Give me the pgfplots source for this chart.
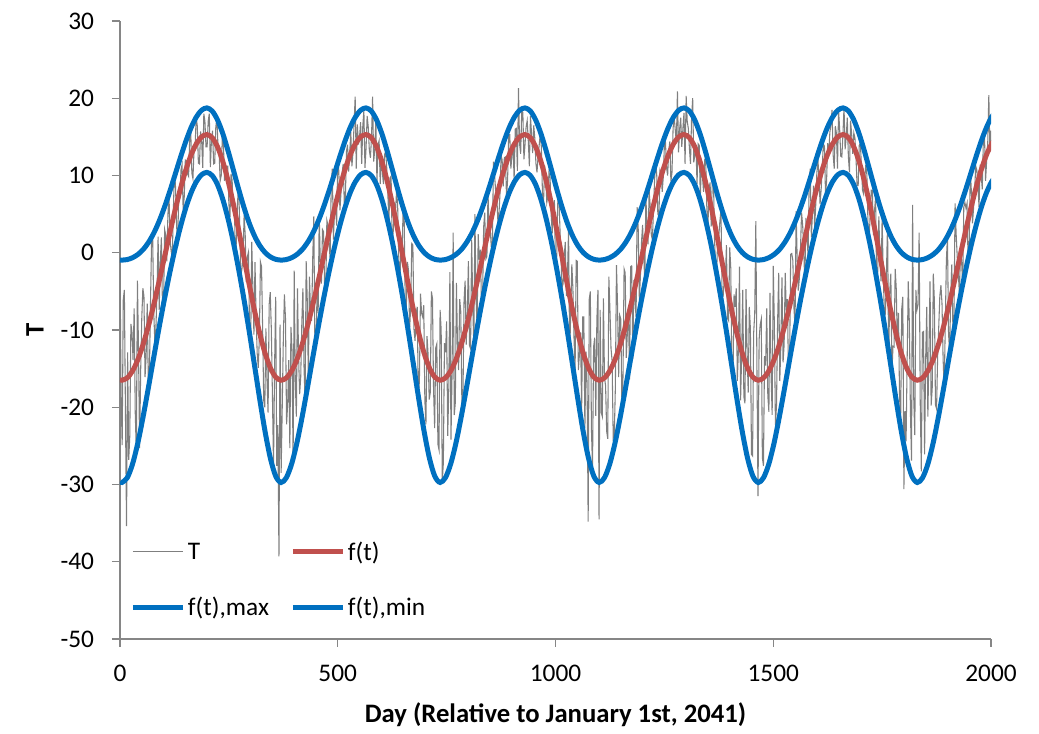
\documentclass[border=0pt]{standalone}
\usepackage{fontspec}
\setmainfont{Carlito}
\usepackage{pgfplots}
\usepackage{pgfplotstable}
\pgfplotsset{compat=1.18}

\definecolor{seriesgray}{HTML}{7F7F7F}
\definecolor{seriesred}{HTML}{C0504D}
\definecolor{seriesblue}{HTML}{0070C0}
\definecolor{axisgray}{HTML}{868686}

% temperature record, sampled every 2.5 days
\pgfplotstableread[row sep=\\]{
d T\\
0 -1.3\\ 2.5 -18.3\\ 5 -24.9\\ 7.5 -6.1\\ 10 -4.8\\ 12.5 -20.6\\ 15 -35.4\\ 17.5 -12.9\\ 20 -26.8\\ 22.5 -23.7\\
25 -9.2\\ 27.5 -10.3\\ 30 -13.9\\ 32.5 -7.2\\ 35 -20.7\\ 37.5 -25.8\\ 40 -3.6\\ 42.5 -12.4\\ 45 -25.3\\ 47.5 -15.2\\
50 -8.5\\ 52.5 -4.6\\ 55 -5.6\\ 57.5 -16.1\\ 60 -13.4\\ 62.5 -6.6\\ 65 -16.8\\ 67.5 -15.8\\ 70 -6.6\\ 72.5 1.5\\
75 2.1\\ 77.5 -7.7\\ 80 -11.6\\ 82.5 -9.7\\ 85 -5.0\\ 87.5 2.1\\ 90 -7.4\\ 92.5 -1.2\\ 95 2.0\\ 97.5 -7.0\\
100 -6.9\\ 102.5 3.0\\ 105 2.3\\ 107.5 -1.1\\ 110 4.9\\ 112.5 7.5\\ 115 1.7\\ 117.5 0.2\\ 120 -0.7\\ 122.5 5.4\\
125 10.6\\ 127.5 8.5\\ 130 3.5\\ 132.5 0.8\\ 135 8.3\\ 137.5 7.0\\ 140 10.7\\ 142.5 11.4\\ 145 5.6\\ 147.5 7.2\\
150 12.0\\ 152.5 11.9\\ 155 10.2\\ 157.5 9.9\\ 160 14.7\\ 162.5 15.6\\ 165 10.3\\ 167.5 9.6\\ 170 13.3\\ 172.5 13.9\\
175 17.5\\ 177.5 16.4\\ 180 11.6\\ 182.5 11.5\\ 185 15.7\\ 187.5 14.5\\ 190 11.0\\ 192.5 18.0\\ 195 17.0\\ 197.5 13.7\\
200 13.7\\ 202.5 17.0\\ 205 18.0\\ 207.5 11.1\\ 210 14.6\\ 212.5 15.8\\ 215 11.5\\ 217.5 11.6\\ 220 16.3\\ 222.5 17.4\\
225 13.8\\ 227.5 13.1\\ 230 9.3\\ 232.5 10.0\\ 235 15.3\\ 237.5 14.2\\ 240 9.4\\ 242.5 9.5\\ 245 11.2\\ 247.5 11.2\\
250 6.3\\ 252.5 4.6\\ 255 10.2\\ 257.5 9.4\\ 260 5.3\\ 262.5 6.8\\ 265 -0.8\\ 267.5 1.8\\ 270 6.7\\ 272.5 8.6\\
275 3.3\\ 277.5 -2.9\\ 280 -2.1\\ 282.5 -0.7\\ 285 4.9\\ 287.5 2.3\\ 290 -3.8\\ 292.5 -0.5\\ 295 0.1\\ 297.5 -9.9\\
300 -12.6\\ 302.5 1.4\\ 305 -4.3\\ 307.5 -10.6\\ 310 -1.2\\ 312.5 -8.3\\ 315 -13.0\\ 317.5 -14.9\\ 320 -11.0\\ 322.5 -1.2\\
325 -1.8\\ 327.5 -9.8\\ 330 -19.1\\ 332.5 -20.0\\ 335 -9.8\\ 337.5 -16.4\\ 340 -20.7\\ 342.5 -6.7\\ 345 -5.1\\ 347.5 -9.9\\
350 -18.4\\ 352.5 -27.6\\ 355 -14.6\\ 357.5 -5.7\\ 360 -27.6\\ 362.5 -22.3\\ 365 -39.3\\ 367.5 -9.3\\ 370 -28.5\\ 372.5 -20.1\\
375 -11.3\\ 377.5 -5.4\\ 380 -8.5\\ 382.5 -22.2\\ 385 -19.6\\ 387.5 -13.9\\ 390 -25.3\\ 392.5 -9.6\\ 395 -12.6\\ 397.5 -27.0\\
400 -2.3\\ 402.5 -16.8\\ 405 -21.2\\ 407.5 -4.6\\ 410 -13.3\\ 412.5 -18.3\\ 415 -16.1\\ 417.5 -9.1\\ 420 -4.6\\ 422.5 -14.7\\
425 -19.2\\ 427.5 -1.1\\ 430 -6.1\\ 432.5 -16.3\\ 435 -3.1\\ 437.5 -7.5\\ 440 -8.8\\ 442.5 -0.8\\ 445 4.7\\ 447.5 -11.9\\
450 -11.8\\ 452.5 -5.3\\ 455 -7.8\\ 457.5 4.9\\ 460 -1.5\\ 462.5 -4.0\\ 465 3.0\\ 467.5 2.7\\ 470 -5.1\\ 472.5 -4.7\\
475 4.2\\ 477.5 3.6\\ 480 1.1\\ 482.5 -0.7\\ 485 8.7\\ 487.5 10.9\\ 490 1.7\\ 492.5 5.3\\ 495 6.0\\ 497.5 3.5\\
500 12.4\\ 502.5 10.5\\ 505 5.5\\ 507.5 7.8\\ 510 10.3\\ 512.5 11.5\\ 515 6.4\\ 517.5 7.1\\ 520 13.1\\ 522.5 14.0\\
525 10.5\\ 527.5 13.0\\ 530 15.6\\ 532.5 11.2\\ 535 13.0\\ 537.5 16.7\\ 540 20.2\\ 542.5 10.9\\ 545 16.6\\ 547.5 14.0\\
550 15.0\\ 552.5 16.9\\ 555 11.5\\ 557.5 16.4\\ 560 18.4\\ 562.5 11.0\\ 565 13.5\\ 567.5 17.7\\ 570 16.3\\ 572.5 13.3\\
575 12.3\\ 577.5 14.9\\ 580 20.2\\ 582.5 11.8\\ 585 13.3\\ 587.5 17.2\\ 590 9.1\\ 592.5 14.0\\ 595 14.5\\ 597.5 8.9\\
600 12.6\\ 602.5 10.3\\ 605 8.9\\ 607.5 12.7\\ 610 13.1\\ 612.5 11.0\\ 615 7.7\\ 617.5 3.9\\ 620 9.7\\ 622.5 9.9\\
625 1.4\\ 627.5 2.8\\ 630 6.5\\ 632.5 5.1\\ 635 8.0\\ 637.5 6.3\\ 640 -0.4\\ 642.5 -3.8\\ 645 0.3\\ 647.5 -1.0\\
650 5.6\\ 652.5 4.6\\ 655 -6.5\\ 657.5 -7.0\\ 660 -1.2\\ 662.5 -2.3\\ 665 -9.9\\ 667.5 -7.0\\ 670 1.2\\ 672.5 1.0\\
675 -9.9\\ 677.5 -11.4\\ 680 -7.9\\ 682.5 -7.0\\ 685 -18.7\\ 687.5 -16.6\\ 690 -5.3\\ 692.5 -7.8\\ 695 -8.3\\ 697.5 -6.8\\
700 -19.1\\ 702.5 -22.2\\ 705 -10.8\\ 707.5 -13.2\\ 710 -19.0\\ 712.5 -18.1\\ 715 -5.0\\ 717.5 -5.9\\ 720 -17.7\\ 722.5 -22.7\\
725 -12.3\\ 727.5 -11.8\\ 730 -24.8\\ 732.5 -25.5\\ 735 -7.4\\ 737.5 -10.0\\ 740 -29.6\\ 742.5 -27.2\\ 745 -11.7\\ 747.5 -12.9\\
750 -8.9\\ 752.5 -23.7\\ 755 -17.5\\ 757.5 -2.5\\ 760 -24.2\\ 762.5 -15.6\\ 765 2.6\\ 767.5 -21.0\\ 770 -19.4\\ 772.5 -3.9\\
775 -11.8\\ 777.5 -15.2\\ 780 -6.0\\ 782.5 -7.6\\ 785 -19.3\\ 787.5 -18.8\\ 790 -6.2\\ 792.5 -3.6\\ 795 -11.9\\ 797.5 -7.6\\
800 -1.1\\ 802.5 -12.0\\ 805 -12.4\\ 807.5 1.7\\ 810 -6.7\\ 812.5 -12.4\\ 815 5.0\\ 817.5 -5.8\\ 820 -9.6\\ 822.5 2.4\\
825 -0.9\\ 827.5 0.4\\ 830 -6.6\\ 832.5 -6.3\\ 835 3.3\\ 837.5 5.2\\ 840 -0.8\\ 842.5 -0.5\\ 845 7.8\\ 847.5 3.2\\
850 3.2\\ 852.5 0.8\\ 855 0.8\\ 857.5 11.8\\ 860 10.1\\ 862.5 8.1\\ 865 7.6\\ 867.5 4.3\\ 870 4.8\\ 872.5 7.6\\
875 12.6\\ 877.5 12.0\\ 880 8.6\\ 882.5 12.3\\ 885 12.4\\ 887.5 7.2\\ 890 9.4\\ 892.5 15.3\\ 895 15.3\\ 897.5 10.9\\
900 12.6\\ 902.5 14.1\\ 905 9.5\\ 907.5 16.0\\ 910 16.1\\ 912.5 10.6\\ 915 21.3\\ 917.5 14.1\\ 920 12.8\\ 922.5 18.3\\
925 18.2\\ 927.5 12.1\\ 930 14.0\\ 932.5 16.3\\ 935 17.1\\ 937.5 14.5\\ 940 11.2\\ 942.5 17.7\\ 945 15.4\\ 947.5 12.9\\
950 16.5\\ 952.5 14.8\\ 955 11.6\\ 957.5 10.4\\ 960 12.5\\ 962.5 13.9\\ 965 15.4\\ 967.5 13.7\\ 970 7.8\\ 972.5 6.4\\
975 11.3\\ 977.5 9.9\\ 980 6.5\\ 982.5 7.3\\ 985 10.4\\ 987.5 9.8\\ 990 5.0\\ 992.5 2.5\\ 995 5.8\\ 997.5 6.8\\
1000 -1.9\\ 1002.5 -1.4\\ 1005 6.3\\ 1007.5 7.8\\ 1010 3.5\\ 1012.5 -0.4\\ 1015 -4.5\\ 1017.5 -4.0\\ 1020 -0.4\\ 1022.5 1.4\\
1025 -5.6\\ 1027.5 -2.9\\ 1030 3.1\\ 1032.5 -13.3\\ 1035 -7.7\\ 1037.5 -1.5\\ 1040 -4.7\\ 1042.5 -11.0\\ 1045 -15.2\\ 1047.5 -1.0\\
1050 -1.1\\ 1052.5 -15.2\\ 1055 -13.1\\ 1057.5 -10.3\\ 1060 -20.4\\ 1062.5 -8.3\\ 1065 -8.3\\ 1067.5 -22.7\\ 1070 -12.8\\ 1072.5 -16.9\\
1075 -34.8\\ 1077.5 -6.0\\ 1080 -5.0\\ 1082.5 -22.8\\ 1085 -27.9\\ 1087.5 -12.2\\ 1090 -11.0\\ 1092.5 -21.1\\ 1095 -8.6\\ 1097.5 -4.8\\
1100 -34.5\\ 1102.5 -7.4\\ 1105 -20.7\\ 1107.5 -21.2\\ 1110 -5.9\\ 1112.5 -16.2\\ 1115 -17.2\\ 1117.5 -23.1\\ 1120 -24.1\\ 1122.5 -3.1\\
1125 -7.4\\ 1127.5 -12.4\\ 1130 -14.0\\ 1132.5 -24.0\\ 1135 -23.6\\ 1137.5 -17.3\\ 1140 -1.6\\ 1142.5 -6.9\\ 1145 -16.1\\ 1147.5 -8.1\\
1150 -8.6\\ 1152.5 -20.1\\ 1155 -16.1\\ 1157.5 -2.1\\ 1160 -2.6\\ 1162.5 -13.6\\ 1165 -10.4\\ 1167.5 -7.0\\ 1170 -16.4\\ 1172.5 -1.8\\
1175 -1.7\\ 1177.5 -13.7\\ 1180 -3.5\\ 1182.5 -6.2\\ 1185 -8.3\\ 1187.5 5.9\\ 1190 3.0\\ 1192.5 -6.1\\ 1195 -3.0\\ 1197.5 1.4\\
1200 3.6\\ 1202.5 -0.2\\ 1205 -3.8\\ 1207.5 7.2\\ 1210 3.9\\ 1212.5 1.1\\ 1215 8.0\\ 1217.5 6.0\\ 1220 2.3\\ 1222.5 1.7\\
1225 5.6\\ 1227.5 9.4\\ 1230 11.9\\ 1232.5 10.0\\ 1235 5.0\\ 1237.5 4.7\\ 1240 10.7\\ 1242.5 10.3\\ 1245 7.9\\ 1247.5 9.8\\
1250 13.9\\ 1252.5 14.3\\ 1255 11.0\\ 1257.5 10.0\\ 1260 13.2\\ 1262.5 14.4\\ 1265 9.2\\ 1267.5 10.4\\ 1270 16.1\\ 1272.5 17.6\\
1275 15.9\\ 1277.5 14.2\\ 1280 20.9\\ 1282.5 13.0\\ 1285 16.0\\ 1287.5 17.5\\ 1290 13.7\\ 1292.5 16.0\\ 1295 18.1\\ 1297.5 11.5\\
1300 20.3\\ 1302.5 17.0\\ 1305 16.1\\ 1307.5 13.5\\ 1310 11.5\\ 1312.5 17.5\\ 1315 20.0\\ 1317.5 11.7\\ 1320 12.7\\ 1322.5 13.8\\
1325 8.9\\ 1327.5 14.1\\ 1330 13.9\\ 1332.5 7.1\\ 1335 11.5\\ 1337.5 9.8\\ 1340 7.9\\ 1342.5 12.0\\ 1345 11.8\\ 1347.5 5.7\\
1350 3.3\\ 1352.5 8.2\\ 1355 9.1\\ 1357.5 3.4\\ 1360 9.4\\ 1362.5 10.3\\ 1365 2.0\\ 1367.5 -1.7\\ 1370 -2.5\\ 1372.5 1.9\\
1375 2.2\\ 1377.5 4.1\\ 1380 5.6\\ 1382.5 -5.5\\ 1385 -5.6\\ 1387.5 -3.4\\ 1390 -3.5\\ 1392.5 1.0\\ 1395 -8.5\\ 1397.5 -8.8\\
1400 0.7\\ 1402.5 -2.0\\ 1405 -16.2\\ 1407.5 -16.4\\ 1410 -5.4\\ 1412.5 -7.0\\ 1415 -4.6\\ 1417.5 -16.6\\ 1420 -12.6\\ 1422.5 -1.8\\
1425 -19.1\\ 1427.5 -13.2\\ 1430 -4.8\\ 1432.5 -18.6\\ 1435 -19.5\\ 1437.5 -4.7\\ 1440 -12.9\\ 1442.5 -18.1\\ 1445 -7.0\\ 1447.5 -9.8\\
1450 -26.1\\ 1452.5 -26.3\\ 1455 -10.4\\ 1457.5 -7.9\\ 1460 4.1\\ 1462.5 -14.5\\ 1465 -31.5\\ 1467.5 -11.3\\ 1470 -9.3\\ 1472.5 -8.6\\
1475 -26.5\\ 1477.5 -27.6\\ 1480 -13.4\\ 1482.5 -14.6\\ 1485 -7.2\\ 1487.5 -18.5\\ 1490 -20.6\\ 1492.5 -5.2\\ 1495 -15.9\\ 1497.5 -21.0\\
1500 -1.7\\ 1502.5 -9.1\\ 1505 -22.3\\ 1507.5 -19.7\\ 1510 -9.0\\ 1512.5 -2.6\\ 1515 -16.6\\ 1517.5 -12.0\\ 1520 -3.2\\ 1522.5 -14.2\\
1525 -11.9\\ 1527.5 -2.6\\ 1530 -7.6\\ 1532.5 -6.0\\ 1535 -16.0\\ 1537.5 -14.5\\ 1540 -0.2\\ 1542.5 -0.1\\ 1545 -1.0\\ 1547.5 -7.1\\
1550 -9.6\\ 1552.5 5.4\\ 1555 -0.9\\ 1557.5 -4.9\\ 1560 -3.3\\ 1562.5 0.4\\ 1565 5.2\\ 1567.5 3.6\\ 1570 0.4\\ 1572.5 -4.1\\
1575 4.5\\ 1577.5 2.0\\ 1580 -0.4\\ 1582.5 9.0\\ 1585 10.9\\ 1587.5 2.0\\ 1590 5.0\\ 1592.5 8.7\\ 1595 3.3\\ 1597.5 6.1\\
1600 10.2\\ 1602.5 12.1\\ 1605 9.8\\ 1607.5 6.3\\ 1610 8.2\\ 1612.5 11.0\\ 1615 14.1\\ 1617.5 13.8\\ 1620 7.6\\ 1622.5 9.3\\
1625 14.2\\ 1627.5 12.7\\ 1630 15.6\\ 1632.5 16.6\\ 1635 18.5\\ 1637.5 12.7\\ 1640 10.9\\ 1642.5 16.4\\ 1645 15.5\\ 1647.5 10.9\\
1650 18.4\\ 1652.5 16.0\\ 1655 12.5\\ 1657.5 12.4\\ 1660 15.3\\ 1662.5 18.8\\ 1665 13.4\\ 1667.5 14.9\\ 1670 17.5\\ 1672.5 12.4\\
1675 10.4\\ 1677.5 17.1\\ 1680 15.4\\ 1682.5 12.8\\ 1685 15.5\\ 1687.5 14.9\\ 1690 12.3\\ 1692.5 8.7\\ 1695 8.7\\ 1697.5 13.9\\
1700 14.2\\ 1702.5 11.2\\ 1705 8.1\\ 1707.5 7.6\\ 1710 9.5\\ 1712.5 11.4\\ 1715 10.1\\ 1717.5 3.8\\ 1720 1.4\\ 1722.5 4.9\\
1725 8.1\\ 1727.5 8.1\\ 1730 2.3\\ 1732.5 5.4\\ 1735 7.2\\ 1737.5 -4.1\\ 1740 -2.4\\ 1742.5 4.7\\ 1745 -0.9\\ 1747.5 -3.7\\
1750 4.5\\ 1752.5 -2.8\\ 1755 -7.4\\ 1757.5 -7.8\\ 1760 -2.4\\ 1762.5 3.9\\ 1765 -14.4\\ 1767.5 -5.0\\ 1770 -2.7\\ 1772.5 -15.5\\
1775 -12.1\\ 1777.5 -12.2\\ 1780 -2.1\\ 1782.5 -4.7\\ 1785 -12.2\\ 1787.5 -7.8\\ 1790 -18.6\\ 1792.5 -21.8\\ 1795 -7.3\\ 1797.5 -5.7\\
1800 -30.6\\ 1802.5 -20.5\\ 1805 -24.4\\ 1807.5 -13.8\\ 1810 -3.7\\ 1812.5 -9.1\\ 1815 -20.7\\ 1817.5 -26.9\\ 1820 6.2\\ 1822.5 -18.7\\
1825 -23.6\\ 1827.5 -4.8\\ 1830 -7.4\\ 1832.5 -6.7\\ 1835 2.6\\ 1837.5 -19.4\\ 1840 -28.3\\ 1842.5 -10.3\\ 1845 -10.2\\ 1847.5 -26.1\\
1850 -13.7\\ 1852.5 -7.0\\ 1855 -21.2\\ 1857.5 -13.0\\ 1860 -3.7\\ 1862.5 -19.8\\ 1865 -17.6\\ 1867.5 -2.7\\ 1870 -6.2\\ 1872.5 -19.7\\
1875 -20.2\\ 1877.5 -13.4\\ 1880 -9.6\\ 1882.5 -5.6\\ 1885 -4.2\\ 1887.5 -6.6\\ 1890 -13.7\\ 1892.5 -17.6\\ 1895 -9.5\\ 1897.5 -1.0\\
1900 2.1\\ 1902.5 -10.4\\ 1905 -13.0\\ 1907.5 -5.6\\ 1910 -1.5\\ 1912.5 -9.8\\ 1915 -8.7\\ 1917.5 6.4\\ 1920 2.4\\ 1922.5 -0.6\\
1925 -2.7\\ 1927.5 -5.4\\ 1930 0.7\\ 1932.5 -1.1\\ 1935 -4.4\\ 1937.5 5.9\\ 1940 6.5\\ 1942.5 5.8\\ 1945 6.4\\ 1947.5 -1.6\\
1950 1.1\\ 1952.5 10.8\\ 1955 7.8\\ 1957.5 3.8\\ 1960 5.8\\ 1962.5 8.2\\ 1965 11.2\\ 1967.5 10.7\\ 1970 8.8\\ 1972.5 5.9\\
1975 11.4\\ 1977.5 10.0\\ 1980 8.2\\ 1982.5 14.9\\ 1985 15.3\\ 1987.5 9.3\\ 1990 11.9\\ 1992.5 14.2\\ 1995 20.4\\ 1997.5 13.1\\
2000 15.8\\
}\tdata

% fitted seasonal curve with its upper and lower envelopes
\pgfplotstableread{
x f fmax fmin
0 -16.45 -0.94 -29.63
4.5 -16.50 -0.95 -29.74
16.69 -16.20 -0.88 -29.12
28.88 -15.29 -0.64 -27.33
41.06 -13.82 -0.22 -24.59
53.25 -11.84 0.42 -21.17
65.44 -9.43 1.34 -17.39
77.63 -6.69 2.55 -13.49
89.81 -3.70 4.07 -9.67
102.00 -0.60 5.88 -6.02
114.19 2.50 7.91 -2.62
126.38 5.49 10.09 0.51
138.56 8.23 12.28 3.31
150.75 10.64 14.35 5.74
162.94 12.62 16.16 7.72
175.13 14.09 17.56 9.19
187.31 15.00 18.45 10.10
199.50 15.30 18.75 10.40
211.66 14.90 18.35 10.00
223.82 13.73 17.21 8.83
235.98 11.83 15.43 6.93
248.14 9.31 13.19 4.40
260.30 6.30 10.72 1.35
272.46 2.94 8.22 -2.15
284.62 -0.60 5.88 -6.02
296.79 -4.14 3.83 -10.20
308.95 -7.50 2.17 -14.60
321.11 -10.51 0.91 -19.04
333.27 -13.03 0.02 -23.19
345.43 -14.93 -0.54 -26.63
357.59 -16.10 -0.85 -28.93
369.75 -16.50 -0.95 -29.74
381.94 -16.20 -0.88 -29.12
394.13 -15.29 -0.64 -27.33
406.31 -13.82 -0.22 -24.59
418.50 -11.84 0.42 -21.17
430.69 -9.43 1.34 -17.39
442.88 -6.69 2.55 -13.49
455.06 -3.70 4.07 -9.67
467.25 -0.60 5.88 -6.02
479.44 2.50 7.91 -2.62
491.63 5.49 10.09 0.51
503.81 8.23 12.28 3.31
516.00 10.64 14.35 5.74
528.19 12.62 16.16 7.72
540.38 14.09 17.56 9.19
552.56 15.00 18.45 10.10
564.75 15.30 18.75 10.40
576.91 14.90 18.35 10.00
589.07 13.73 17.21 8.83
601.23 11.83 15.43 6.93
613.39 9.31 13.19 4.40
625.55 6.30 10.72 1.35
637.71 2.94 8.22 -2.15
649.87 -0.60 5.88 -6.02
662.04 -4.14 3.83 -10.20
674.20 -7.50 2.17 -14.60
686.36 -10.51 0.91 -19.04
698.52 -13.03 0.02 -23.19
710.68 -14.93 -0.54 -26.63
722.84 -16.10 -0.85 -28.93
735.00 -16.50 -0.95 -29.74
747.19 -16.20 -0.88 -29.12
759.38 -15.29 -0.64 -27.33
771.56 -13.82 -0.22 -24.59
783.75 -11.84 0.42 -21.17
795.94 -9.43 1.34 -17.39
808.13 -6.69 2.55 -13.49
820.31 -3.70 4.07 -9.67
832.50 -0.60 5.88 -6.02
844.69 2.50 7.91 -2.62
856.88 5.49 10.09 0.51
869.06 8.23 12.28 3.31
881.25 10.64 14.35 5.74
893.44 12.62 16.16 7.72
905.63 14.09 17.56 9.19
917.81 15.00 18.45 10.10
930.00 15.30 18.75 10.40
942.16 14.90 18.35 10.00
954.32 13.73 17.21 8.83
966.48 11.83 15.43 6.93
978.64 9.31 13.19 4.40
990.80 6.30 10.72 1.35
1002.96 2.94 8.22 -2.15
1015.12 -0.60 5.88 -6.02
1027.29 -4.14 3.83 -10.20
1039.45 -7.50 2.17 -14.60
1051.61 -10.51 0.91 -19.04
1063.77 -13.03 0.02 -23.19
1075.93 -14.93 -0.54 -26.63
1088.09 -16.10 -0.85 -28.93
1100.25 -16.50 -0.95 -29.74
1112.44 -16.20 -0.88 -29.12
1124.63 -15.29 -0.64 -27.33
1136.81 -13.82 -0.22 -24.59
1149.00 -11.84 0.42 -21.17
1161.19 -9.43 1.34 -17.39
1173.38 -6.69 2.55 -13.49
1185.56 -3.70 4.07 -9.67
1197.75 -0.60 5.88 -6.02
1209.94 2.50 7.91 -2.62
1222.13 5.49 10.09 0.51
1234.31 8.23 12.28 3.31
1246.50 10.64 14.35 5.74
1258.69 12.62 16.16 7.72
1270.88 14.09 17.56 9.19
1283.06 15.00 18.45 10.10
1295.25 15.30 18.75 10.40
1307.41 14.90 18.35 10.00
1319.57 13.73 17.21 8.83
1331.73 11.83 15.43 6.93
1343.89 9.31 13.19 4.40
1356.05 6.30 10.72 1.35
1368.21 2.94 8.22 -2.15
1380.37 -0.60 5.88 -6.02
1392.54 -4.14 3.83 -10.20
1404.70 -7.50 2.17 -14.60
1416.86 -10.51 0.91 -19.04
1429.02 -13.03 0.02 -23.19
1441.18 -14.93 -0.54 -26.63
1453.34 -16.10 -0.85 -28.93
1465.50 -16.50 -0.95 -29.74
1477.69 -16.20 -0.88 -29.12
1489.88 -15.29 -0.64 -27.33
1502.06 -13.82 -0.22 -24.59
1514.25 -11.84 0.42 -21.17
1526.44 -9.43 1.34 -17.39
1538.63 -6.69 2.55 -13.49
1550.81 -3.70 4.07 -9.67
1563.00 -0.60 5.88 -6.02
1575.19 2.50 7.91 -2.62
1587.38 5.49 10.09 0.51
1599.56 8.23 12.28 3.31
1611.75 10.64 14.35 5.74
1623.94 12.62 16.16 7.72
1636.13 14.09 17.56 9.19
1648.31 15.00 18.45 10.10
1660.50 15.30 18.75 10.40
1672.66 14.90 18.35 10.00
1684.82 13.73 17.21 8.83
1696.98 11.83 15.43 6.93
1709.14 9.31 13.19 4.40
1721.30 6.30 10.72 1.35
1733.46 2.94 8.22 -2.15
1745.62 -0.60 5.88 -6.02
1757.79 -4.14 3.83 -10.20
1769.95 -7.50 2.17 -14.60
1782.11 -10.51 0.91 -19.04
1794.27 -13.03 0.02 -23.19
1806.43 -14.93 -0.54 -26.63
1818.59 -16.10 -0.85 -28.93
1830.75 -16.50 -0.95 -29.74
1842.94 -16.20 -0.88 -29.12
1855.13 -15.29 -0.64 -27.33
1867.31 -13.82 -0.22 -24.59
1879.50 -11.84 0.42 -21.17
1891.69 -9.43 1.34 -17.39
1903.88 -6.69 2.55 -13.49
1916.06 -3.70 4.07 -9.67
1928.25 -0.60 5.88 -6.02
1940.44 2.50 7.91 -2.62
1952.63 5.49 10.09 0.51
1964.81 8.23 12.28 3.31
1977.00 10.64 14.35 5.74
1989.19 12.62 16.16 7.72
2001.38 14.09 17.56 9.19
2013.56 15.00 18.45 10.10
2025.75 15.30 18.75 10.40
}\curves

\begin{document}
\begin{tikzpicture}
\useasboundingbox (-90pt,-71.25pt) rectangle (689.25pt,479.25pt);
\begin{axis}[
  at={(0pt,0pt)}, anchor=south west,
  scale only axis, width=653.25pt, height=463.5pt,
  xmin=0, xmax=2000, ymin=-50, ymax=30,
  xtick={0,500,1000,1500,2000},
  ytick={-50,-40,-30,-20,-10,0,10,20,30},
  axis x line*=bottom, axis y line*=left,
  axis line style={draw=axisgray, line width=1pt},
  every tick/.style={draw=axisgray, line width=1pt},
  tick align=outside, major tick length=6pt,
  /pgf/number format/assume math mode=true,
  /pgf/number format/1000 sep={},
  tick label style={font=\fontsize{19}{22}\selectfont},
  xticklabel style={yshift=-10pt},
  yticklabel style={xshift=-10pt},
  xlabel={Day (Relative to January 1st, 2041)},
  ylabel={T},
  label style={font=\fontsize{20}{24}\selectfont\bfseries},
  xlabel style={at={(axis description cs:0.5,-0.123)}, anchor=center},
  ylabel style={at={(axis description cs:-0.0976,0.5)}, anchor=center},
  legend columns=2,
  legend style={draw=none, fill=none,
    at={(0.0115,0.0963)}, anchor=west,
    inner sep=0pt, row sep=22pt,
    font=\fontsize{19}{22}\selectfont,
    cells={anchor=west},
    /tikz/every even column/.append style={column sep=14pt}},
  legend image code/.code={\draw[#1] (0pt,0pt) -- (37.5pt,0pt);},
]
\addplot[seriesgray, line width=0.8pt] table[x=d, y=T]{\tdata};
\addlegendentry{T}
\addplot[seriesred, line width=3.75pt, smooth] table[x=x, y=f]{\curves};
\addlegendentry{f(t)}
\addplot[seriesblue, line width=3.75pt, smooth] table[x=x, y=fmax]{\curves};
\addlegendentry{f(t),max}
\addplot[seriesblue, line width=3.75pt, smooth] table[x=x, y=fmin]{\curves};
\addlegendentry{f(t),min}
\end{axis}
\end{tikzpicture}
\end{document}
